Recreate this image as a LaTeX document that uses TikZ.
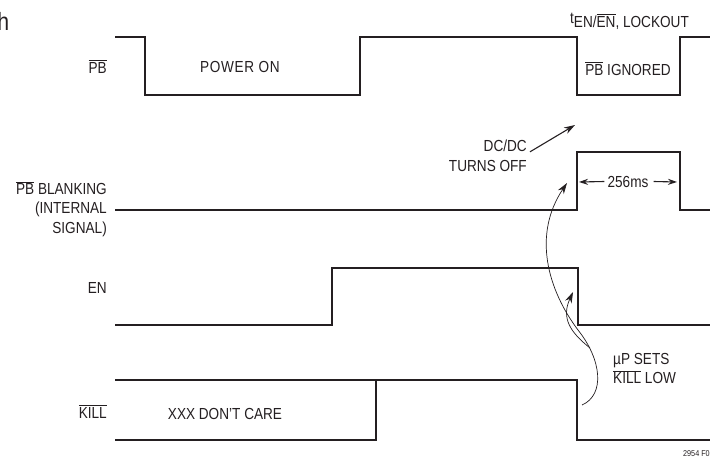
\documentclass[tikz,border=0pt]{standalone}
\usepackage{fontspec}
\setmainfont{Liberation Sans}[FakeStretch=0.85]
\usetikzlibrary{arrows.meta,positioning}
\definecolor{inkgray}{rgb}{0.14,0.12,0.13}
\newcommand{\ovl}[1]{$\overline{\mbox{#1}}$}
\newcommand{\lblsize}{\fontsize{16}{19.5}\selectfont}
\tikzset{
  wave/.style={line width=2.6pt, draw=inkgray, line join=miter},
  lbl/.style={font=\lblsize, inner sep=0pt, text=inkgray},
  durarr/.style={-{Stealth[length=9pt,width=6pt]}, line width=1.1pt, inkgray},
  calloutarr/.style={-{Stealth[length=11pt,width=7pt]}, line width=1.1pt, inkgray},
  curvearr/.style={-{Stealth[length=11pt,width=7pt]}, line width=0.7pt, inkgray}
}

\begin{document}
\begin{tikzpicture}[x=1pt,y=-1pt]
    \useasboundingbox (0,0) rectangle (710,456);
    \clip (0,0) rectangle (710,456);

    % waveforms
    \draw[wave] (115,37) -- (145,37) -- (145,95) -- (360,95) -- (360,37)
      -- (577,37) -- (577,95) -- (680,95) -- (680,37) -- (712,37);
    \draw[wave] (115,210) -- (577,210) -- (577,152) -- (680,152)
      -- (680,210) -- (712,210);
    \draw[wave] (115,325) -- (332,325) -- (332,268) -- (578,268)
      -- (578,325) -- (712,325);
    \draw[wave] (115,380) -- (577,380) -- (577,440) -- (712,440);
    \draw[wave] (115,440) -- (376,440) -- (376,380);

    % signal names
    \node[lbl, anchor=base east] (pb) at (107,73) {\ovl{PB}};
    \node[lbl, anchor=north east, align=right] (blank) at (107,181)
      {\ovl{PB} BLANKING\\(INTERNAL\\SIGNAL)};
    \node[lbl, anchor=base east] (en) at (107,293) {EN};
    \node[lbl, anchor=base east] (kill) at (107,418) {\ovl{KILL}};

    % texts in the waveforms
    \node[lbl, anchor=base west] (pwr) at (200,72)
      {\addfontfeatures{LetterSpace=4}POWER ON};
    \node[lbl, anchor=base] (dontcare) at (225,419) {XXX DON’T CARE};
    \node[lbl, anchor=base] (ignored) at (628,75) {\ovl{PB} IGNORED};
    \node[lbl, anchor=base west] (lockout) at (570,23)
      {t\raisebox{-4pt}{EN/\ovl{EN}, LOCKOUT}};
    \node[lbl, anchor=north east, align=right] (dcdc) at (527,140)
      {DC/DC\\TURNS OFF};
    \node[lbl, anchor=base] (dur) at (628,187) {256ms};
    \node[lbl, anchor=north west, align=left] (usets) at (613,353)
      {µP SETS\\\ovl{KILL} LOW};

    \node[font=\fontsize{25}{30}\selectfont, text=inkgray, inner sep=0pt,
      anchor=base east] (title) at (9.5,30) {h};
    \node[font=\fontsize{8.5}{10}\selectfont, text=inkgray, inner sep=0pt,
      anchor=base west] (fignum) at (683,456) {2954 F05};

    % arrows
    \coordinate (dcdctip) at (575,125);
    \coordinate (durL) at (579,182);
    \coordinate (durR) at (677,182);
    \coordinate (killdrop) at (582,405);
    \coordinate (bend) at (578,330);
    \coordinate (blanktip) at (567,183);
    \coordinate (split) at (590,348);
    \coordinate (entip) at (573,292);

    \draw[calloutarr] ([xshift=3pt,yshift=4pt]dcdc.east) -- (dcdctip);
    \draw[durarr] ([xshift=-3pt]dur.west) -- (durL);
    \draw[durarr] ([xshift=5pt]dur.east) -- (durR);
    \draw[curvearr] (killdrop) .. controls (605,395) and (602,360) .. (bend)
      .. controls (548,290) and (532,235) .. (blanktip);
    \draw[curvearr] (split) .. controls (570,332) and (561,318) .. (entip);
\end{tikzpicture}
\end{document}
